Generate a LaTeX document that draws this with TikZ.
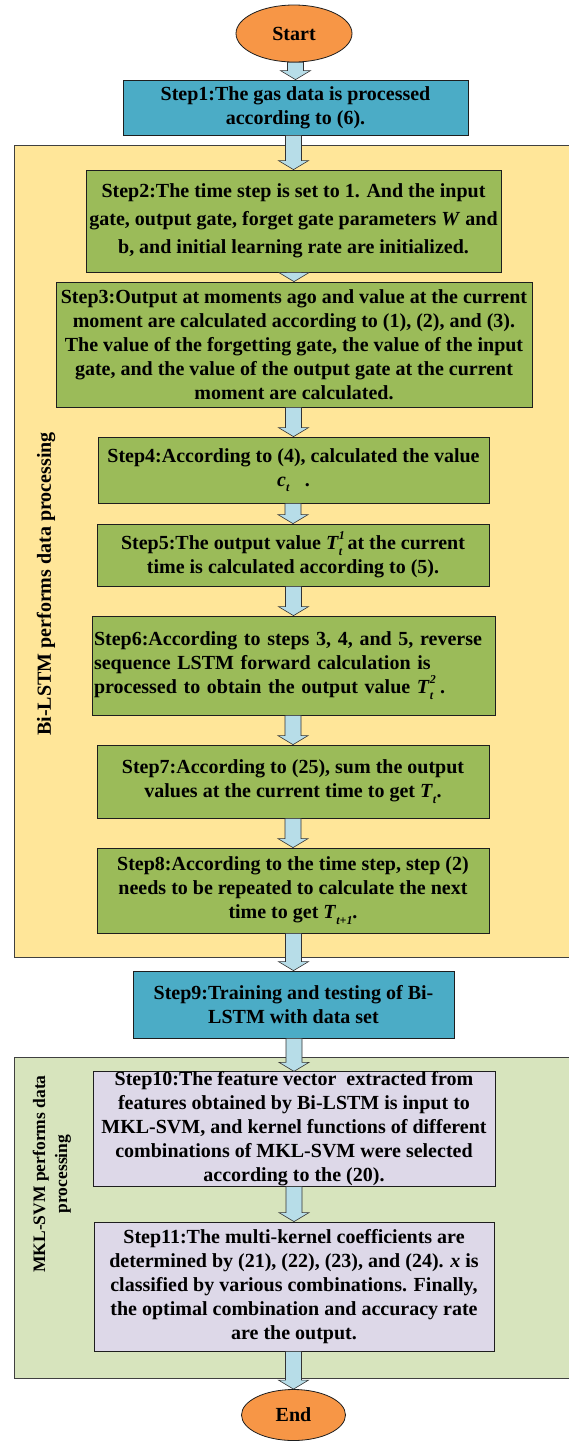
\documentclass[tikz,border=0pt]{standalone}
\usepackage{fontspec}
\setmainfont{Liberation Serif}
\usetikzlibrary{shapes.geometric,calc}
\definecolor{ovalC}{HTML}{F79646}
\definecolor{blueC}{HTML}{4BACC6}
\definecolor{greenC}{HTML}{9BBB59}
\definecolor{yellowP}{HTML}{FFE699}
\definecolor{greenP}{HTML}{D7E4BD}
\definecolor{lavC}{HTML}{DDD8E8}
\definecolor{arrC}{HTML}{B7DDE8}
\definecolor{edgeC}{HTML}{1E1E1E}
\tikzset{
  txt/.style={font=\fontsize{20}{24}\selectfont\bfseries},
  stepbox/.style={draw=edgeC, line width=0.8pt, align=center, inner sep=0pt, txt},
  greenbox/.style={stepbox, fill=greenC},
  bluebox/.style={stepbox, fill=blueC},
  lavbox/.style={stepbox, fill=lavC},
  oval/.style={ellipse, draw=edgeC, line width=0.8pt, fill=ovalC, inner sep=0pt, txt},
  panel/.style={draw=black!75, line width=0.8pt, inner sep=0pt},
  sidelabel/.style={rotate=90, align=center, txt},
  flowarr/.style={draw=black!80, line width=0.6pt, fill=arrC, line join=miter}
}
\newcommand{\flowarrow}[2]{%
  \draw[flowarr] ($(#1.south -| #2.north)+(-8,0)$) -- ($(#2.north)+(-8,9)$) -- ($(#2.north)+(-15,9)$) -- (#2.north) -- ($(#2.north)+(15,9)$) -- ($(#2.north)+(8,9)$) -- ($(#1.south -| #2.north)+(8,0)$) -- cycle;}
\newcommand{\scr}[1]{{\fontsize{12}{12}\selectfont\textit{#1}}}
\newcommand{\Tsubsup}[2]{\textit{T}\makebox[0pt][l]{\raisebox{0.48em}{\scr{#2}}}\raisebox{-0.28em}{\scr{#1}}}
\newcommand{\Tsub}[1]{\textit{T}\raisebox{-0.28em}{\scr{#1}}}
\begin{document}
\begin{tikzpicture}[x=1pt,y=1pt]
\useasboundingbox (0,0) rectangle (569,-1441);
% panels
\node[panel, fill=yellowP, minimum width=561, minimum height=812] (pY) at (294.5,-551) {};
\node[panel, fill=greenP, minimum width=561, minimum height=321] (pG) at (294.5,-1217.5) {};
\node[sidelabel] (lY) at (46,-584) {Bi-LSTM performs data processing};
\node[sidelabel, font=\fontsize{17.5}{22}\selectfont\bfseries] (lG) at (52,-1174) {MKL-SVM performs data\\processing};
% nodes
\node[oval, minimum width=116, minimum height=57] (start) at (294,-33.5) {Start};
\node[bluebox, minimum width=345, minimum height=55] (s1) at (295.5,-107.5) {Step1:The gas data is processed\\according to (6).};
\node[greenbox, minimum width=415, minimum height=102, font=\fontsize{20}{28}\selectfont\bfseries] (s2) at (293.5,-221) {Step2:The time step is set to 1. And the input\\gate, output gate, forget gate parameters \textit{W} and\\b, and initial learning rate are initialized.};
\node[greenbox, minimum width=476, minimum height=125] (s3) at (294,-344.5) {Step3:Output at moments ago and value at the current\\moment are calculated according to (1), (2), and (3).\\The value of the forgetting gate, the value of the input\\gate, and the value of the output gate at the current\\moment are calculated.};
\node[greenbox, minimum width=391, minimum height=66] (s4) at (293.5,-470) {Step4:According to (4), calculated the value\\\textit{c}\raisebox{-0.28em}{\scr{t}}\ \ \ .};
\node[greenbox, minimum width=392, minimum height=62] (s5) at (293,-555) {Step5:The output value \Tsubsup{t}{1} at the current\\time is calculated according to (5).};
\node[greenbox, align=left, text width=399, inner xsep=2, minimum height=99] (s6) at (293.5,-665.5) {Step6:According to steps 3, 4, and 5, reverse\\sequence LSTM forward calculation is\\processed to obtain the output value \Tsubsup{t}{2}\ .};
\node[greenbox, minimum width=392, minimum height=73] (s7) at (293,-781.5) {Step7:According to (25), sum the output\\values at the current time to get \Tsub{t}.};
\node[greenbox, minimum width=392, minimum height=85] (s8) at (293,-890.5) {Step8:According to the time step, step (2)\\needs to be repeated to calculate the next\\time to get \Tsub{t+1}.};
\node[bluebox, minimum width=321, minimum height=67] (s9) at (293.5,-1004.5) {Step9:Training and testing of Bi-\\LSTM with data set};
\node[lavbox, minimum width=402, minimum height=110] (s10) at (294,-1129) {Step10:The feature vector \ extracted from\\features obtained by Bi-LSTM is input to\\MKL-SVM, and kernel functions of different\\combinations of MKL-SVM were selected\\according to the (20).};
\node[lavbox, minimum width=400, minimum height=129] (s11) at (294,-1286.5) {Step11:The multi-kernel coefficients are\\determined by (21), (22), (23), and (24). \textit{x} is\\classified by various combinations. Finally,\\the optimal combination and accuracy rate\\are the output.};
\node[oval, minimum width=104, minimum height=51] (end) at (293.5,-1415) {End};
% arrows
\flowarrow{start}{s1}
\flowarrow{s1}{s2}
\flowarrow{s2}{s3}
\flowarrow{s3}{s4}
\flowarrow{s4}{s5}
\flowarrow{s5}{s6}
\flowarrow{s6}{s7}
\flowarrow{s7}{s8}
\flowarrow{s8}{s9}
\flowarrow{s9}{s10}
\flowarrow{s10}{s11}
\flowarrow{s11}{end}
\end{tikzpicture}
\end{document}
